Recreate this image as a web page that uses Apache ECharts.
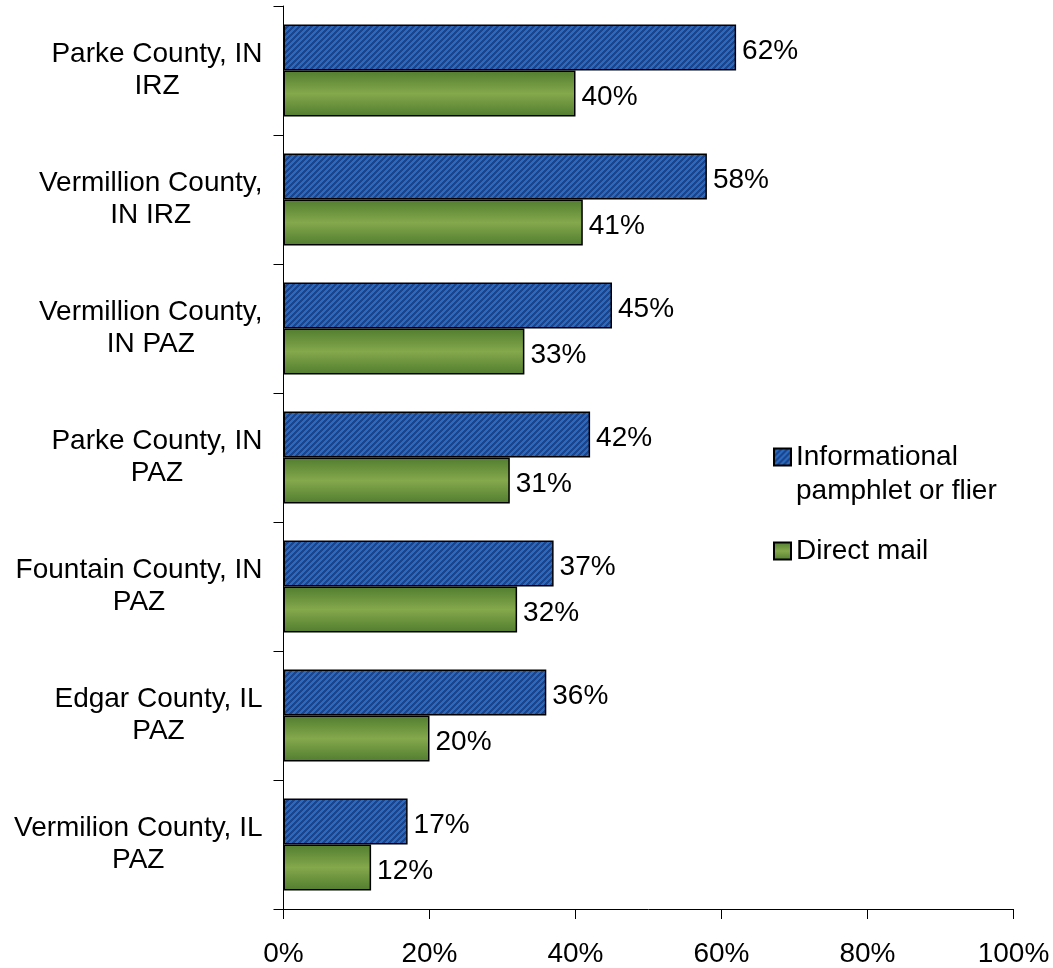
<!DOCTYPE html>
<html>
<head>
<meta charset="utf-8">
<script src="https://cdn.jsdelivr.net/npm/echarts@6/dist/echarts.min.js"></script>
<style>
  html, body { margin: 0; padding: 0; background: #ffffff; }
  #chart { width: 1053px; height: 968px; }
</style>
</head>
<body>
<div id="chart"></div>
<script>
// Areas surveyed (top to bottom)
var categories = [
  'Parke County, IN\nIRZ',
  'Vermillion County,\nIN IRZ',
  'Vermillion County,\nIN PAZ',
  'Parke County, IN\nPAZ',
  'Fountain County, IN\nPAZ',
  'Edgar County, IL\nPAZ',
  'Vermilion County, IL\nPAZ'
];
var seriesNames = ['Informational\npamphlet or flier', 'Direct mail'];
var pamphletValues = [62, 58, 45, 42, 37, 36, 17];
var directMailValues = [40, 41, 33, 31, 32, 20, 12];
var xTicks = [0, 20, 40, 60, 80, 100];

var FONT = '"Liberation Sans", Arial, sans-serif';
var FS = 28;

// Diagonal hatch tile for the pamphlet bars
function makeHatch() {
  var size = 12;
  var c = document.createElement('canvas');
  c.width = size; c.height = size;
  var ctx = c.getContext('2d');
  var img = ctx.createImageData(size, size);
  for (var y = 0; y < size; y++) {
    for (var x = 0; x < size; x++) {
      var dark = ((x + y) % 6) < 3;
      var i = (y * size + x) * 4;
      if (dark) { img.data[i] = 28; img.data[i + 1] = 68; img.data[i + 2] = 140; }
      else { img.data[i] = 40; img.data[i + 1] = 106; img.data[i + 2] = 190; }
      img.data[i + 3] = 255;
    }
  }
  ctx.putImageData(img, 0, 0);
  return c;
}

var hatch = { image: makeHatch(), repeat: 'repeat' };
var greenFill = new echarts.graphic.LinearGradient(0, 0, 0, 1, [
  { offset: 0, color: '#517d2f' },
  { offset: 0.5, color: '#84a84c' },
  { offset: 1, color: '#517d2f' }
]);

var chart = echarts.init(document.getElementById('chart'), null, { renderer: 'canvas' });

var labelStyle = {
  show: true,
  position: 'right',
  distance: 6,
  offset: [0, 4],
  formatter: '{c}%',
  color: '#000',
  fontFamily: FONT,
  fontSize: FS
};

chart.setOption({
  animation: false,
  backgroundColor: '#ffffff',
  textStyle: { fontFamily: FONT },
  grid: { left: 283.5, right: 39.5, top: 6, bottom: 59, containLabel: false },
  legend: {
    orient: 'vertical',
    left: 773,
    top: 406,
    padding: 0,
    itemWidth: 17,
    itemHeight: 17,
    itemGap: 26,
    icon: 'rect',
    selectedMode: false,
    // first entry gets a blank leading line so its first text line sits beside the swatch
    formatter: function (name) {
      return name.indexOf('\n') >= 0 ? ' \n' + name : name;
    },
    textStyle: { fontFamily: FONT, fontSize: FS, color: '#000', lineHeight: 34 },
    data: seriesNames
  },
  xAxis: {
    type: 'value',
    min: xTicks[0],
    max: xTicks[xTicks.length - 1],
    interval: xTicks[1] - xTicks[0],
    axisLine: { show: true, lineStyle: { color: '#000', width: 1 } },
    axisTick: { show: true, length: 10, lineStyle: { color: '#000', width: 1 } },
    splitLine: { show: false },
    axisLabel: {
      margin: 31,
      formatter: '{value}%',
      color: '#000',
      fontFamily: FONT,
      fontSize: FS
    }
  },
  yAxis: {
    type: 'category',
    inverse: true,
    data: categories,
    axisLine: { show: true, lineStyle: { color: '#000', width: 1 } },
    axisTick: { show: true, length: 10, lineStyle: { color: '#000', width: 1 } },
    axisLabel: {
      margin: 21,
      color: '#000',
      formatter: function (v) {
        return v.split('\n').map(function (l) { return '{c|' + l + '}'; }).join('\n');
      },
      rich: {
        c: { align: 'center', fontFamily: FONT, fontSize: FS, lineHeight: 32, color: '#000' }
      }
    }
  },
  series: [
    {
      name: seriesNames[0],
      type: 'bar',
      data: pamphletValues,
      barCategoryGap: '28.5%',
      barGap: '0%',
      itemStyle: { color: hatch, borderColor: '#000', borderWidth: 1.5 },
      label: labelStyle
    },
    {
      name: seriesNames[1],
      type: 'bar',
      data: directMailValues,
      barCategoryGap: '28.5%',
      barGap: '0%',
      itemStyle: { color: greenFill, borderColor: '#000', borderWidth: 1.5 },
      label: labelStyle
    }
  ]
});
</script>
</body>
</html>
